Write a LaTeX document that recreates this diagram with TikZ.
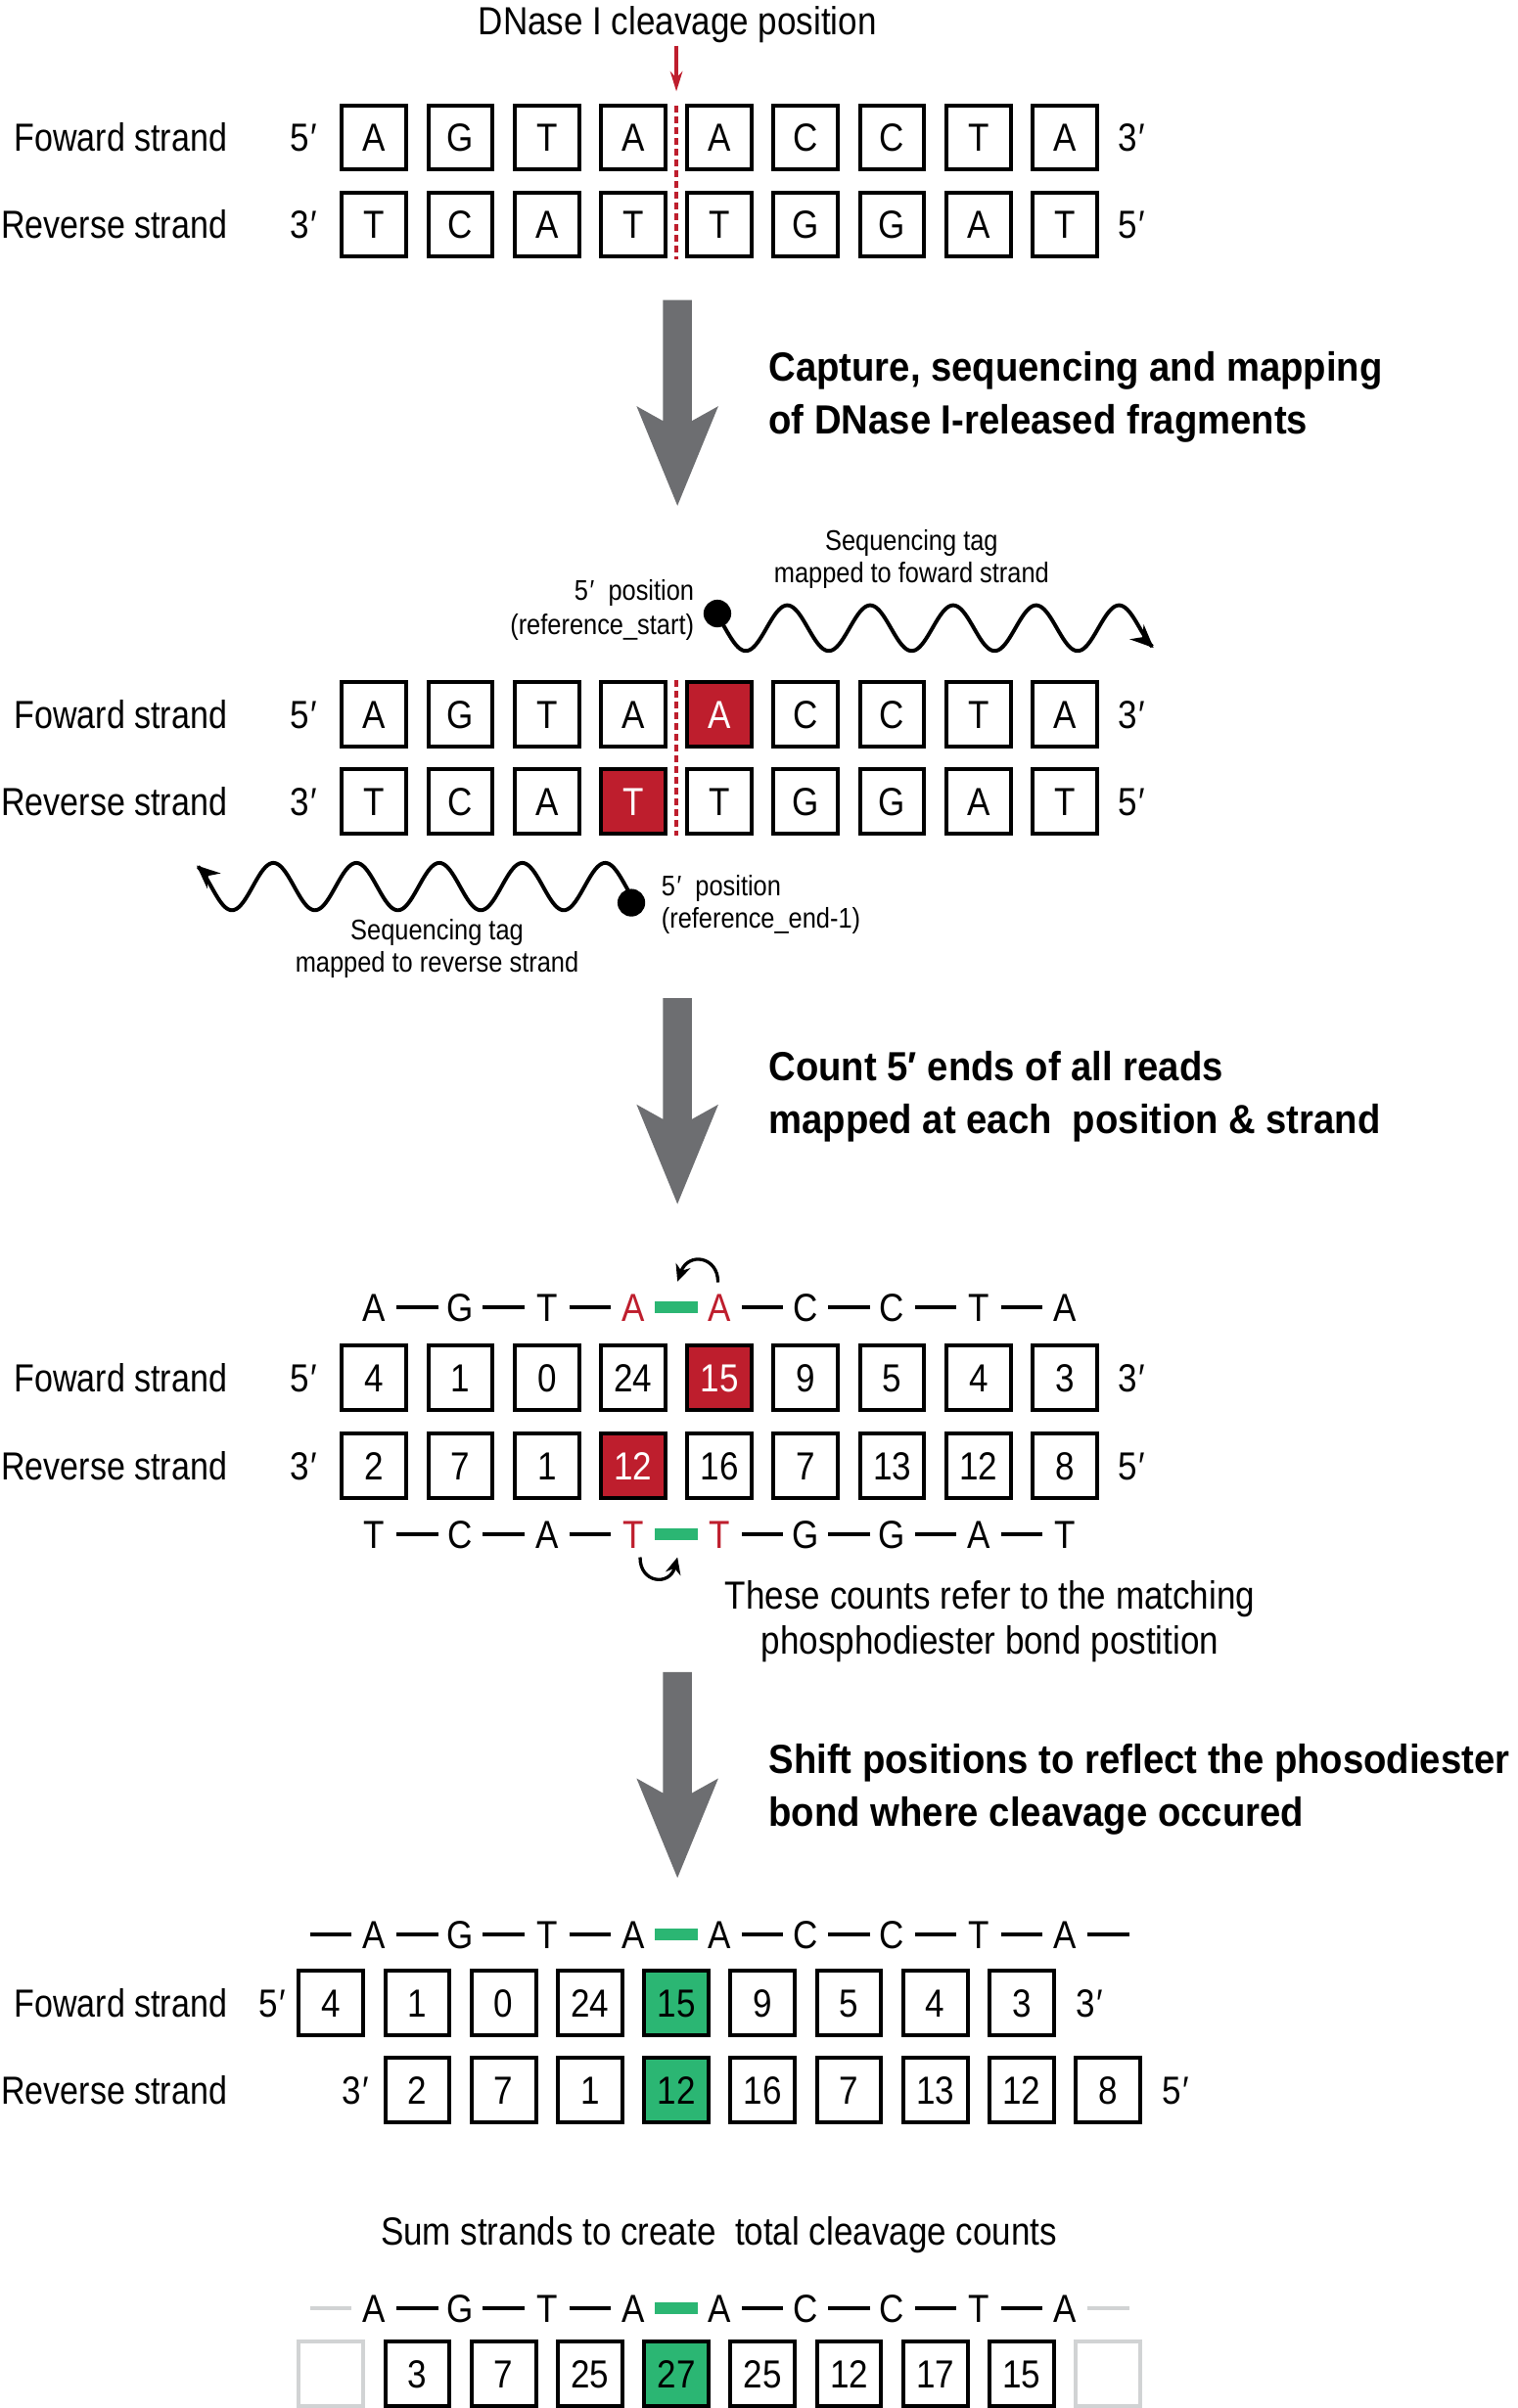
\documentclass[tikz,border=0pt]{standalone}
\usepackage{fontspec}
\setmainfont{Liberation Sans}[FakeStretch=0.875]
\newfontfamily\headfont{Liberation Sans}[FakeStretch=0.92]
\newfontfamily\lblfont{Liberation Sans}[FakeStretch=0.85]
\usetikzlibrary{arrows.meta}
\definecolor{dred}{HTML}{BE1E2D}
\definecolor{dgreen}{HTML}{2BB673}
\definecolor{dgrey}{HTML}{6D6E71}
\definecolor{lgrey}{HTML}{D1D3D4}
\newcommand{\fmain}{\fontsize{25.5}{30}\selectfont}
\newcommand{\flbl}{\lblfont\fontsize{25.5}{30}\selectfont}
\newcommand{\fsmall}{\fontsize{18.5}{22}\selectfont}
\newcommand{\fhead}{\headfont\bfseries\fontsize{26.5}{31}\selectfont}
\begin{document}
\begin{tikzpicture}[x=1pt,y=-1pt,
  cell/.style={draw, line width=2.55pt, minimum width=41.9pt, minimum height=41.9pt, inner sep=0pt, font=\fmain, text height=18.3pt, text depth=0pt},
  txt/.style={font=\fmain, inner sep=0pt, text height=18.3pt, text depth=0pt},
  rowlbl/.style={font=\flbl, inner sep=0pt, text height=18.3pt, text depth=0pt, anchor=east},
  stxt/.style={font=\fsmall, inner sep=0pt, text height=13.2pt, text depth=0pt},
  heading/.style={font=\fhead, inner sep=0pt, text height=19pt, text depth=0pt, anchor=west},
  bondline/.style={line width=2.6pt, shorten <=14.6pt, shorten >=14.6pt},
  gbond/.style={dgreen, line width=7.8pt, shorten <=14.3pt, shorten >=14.3pt},
  cutline/.style={dred, line width=2.4pt, dash pattern=on 4.5pt off 2.5pt},
  waveline/.style={line width=2.5pt, -{Stealth[length=15pt,width=13pt]}},
  curlarrow/.style={line width=2.1pt, -{Stealth[length=11pt,width=10pt]}},
  seqdot/.style={circle, fill=black, minimum size=18pt, inner sep=0pt},
  downarrow/.pic={\fill[dgrey] (-9.4,0) -- (9.4,0) -- (9.4,78.8) -- (26.6,69.2) -- (0,134) -- (-26.6,69.2) -- (-9.4,78.8) -- cycle;}
]
\useasboundingbox (0,0) rectangle (988,1568);

% ---------------- Section 1 ----------------
\node[txt] (title) at (441,13.5) {DNase I cleavage position};
\coordinate (ra1) at (440.3,29.7);
\coordinate (ra2) at (440.3,59.5);
\draw[dred, line width=2pt, -{Stealth[length=13pt,width=8pt]}] (ra1) -- (ra2);

\node[rowlbl] (l1f) at (148,89.5) {Foward strand};
\node[rowlbl] (l1r) at (148,146.2) {Reverse strand};
\node[txt, anchor=east] (e1a) at (207,89.5) {5\kern1pt′};
\node[txt, anchor=east] (e1b) at (207,146.2) {3\kern1pt′};
\node[txt, anchor=west] (e1c) at (728,89.5) {3\kern1pt′};
\node[txt, anchor=west] (e1d) at (728,146.2) {5\kern1pt′};
\foreach \t [count=\i from 0] in {A,G,T,A,A,C,C,T,A}
  \node[cell] (p\i) at ({243.6+56.2*\i},89.5) {\t};
\foreach \t [count=\i from 0] in {T,C,A,T,T,G,G,A,T}
  \node[cell] (pr\i) at ({243.6+56.2*\i},146.2) {\t};
\coordinate (c1a) at (440.3,69);
\coordinate (c1b) at (440.3,169);
\draw[cutline] (c1a) -- (c1b);

\pic (arrowA) at (441,195.3) {downarrow};
\node[heading] (h1a) at (500.3,238.5) {Capture, sequencing and mapping};
\node[heading] (h1b) at (500.3,273) {of DNase I-released fragments};

% ---------------- Section 2 ----------------
\node[stxt] (sq1) at (593.4,351.6) {Sequencing tag};
\node[stxt] (sq2) at (593.4,372.8) {mapped to foward strand};
\node[stxt, anchor=east] (fp1) at (452,384.5) {5\kern1pt′\ \ position};
\node[stxt, anchor=east] (fp2) at (452,406.8) {(reference\_start)};
\node[seqdot] (d1) at (467,399.5) {};
\draw[waveline] plot[domain=467:751, samples=300] (\x, {409 + 14.85*cos((\x-485.5)*6.6667)});

\node[rowlbl] (l2f) at (148,465) {Foward strand};
\node[rowlbl] (l2r) at (148,521.6) {Reverse strand};
\node[txt, anchor=east] (e2a) at (207,465) {5\kern1pt′};
\node[txt, anchor=east] (e2b) at (207,521.6) {3\kern1pt′};
\node[txt, anchor=west] (e2c) at (728,465) {3\kern1pt′};
\node[txt, anchor=west] (e2d) at (728,521.6) {5\kern1pt′};
\foreach \t/\f/\c [count=\i from 0] in {A/white/black,G/white/black,T/white/black,A/white/black,A/dred/white,C/white/black,C/white/black,T/white/black,A/white/black}
  \node[cell, fill=\f, text=\c] (q\i) at ({243.6+56.2*\i},465) {\t};
\foreach \t/\f/\c [count=\i from 0] in {T/white/black,C/white/black,A/white/black,T/dred/white,T/white/black,G/white/black,G/white/black,A/white/black,T/white/black}
  \node[cell, fill=\f, text=\c] (qr\i) at ({243.6+56.2*\i},521.6) {\t};
\coordinate (c2a) at (440.3,443);
\coordinate (c2b) at (440.3,544);
\draw[cutline] (c2a) -- (c2b);

\node[seqdot] (d2) at (411,587.8) {};
\draw[waveline] plot[domain=413:128, samples=300] (\x, {577.3 - 15.4*cos((\x-394)*6.6667)});
\node[stxt, anchor=west] (rp1) at (430.4,576.8) {5\kern1pt′\ \ position};
\node[stxt, anchor=west] (rp2) at (430.4,598) {(reference\_end-1)};
\node[stxt] (sr1) at (284.5,605.4) {Sequencing tag};
\node[stxt] (sr2) at (284.5,626.7) {mapped to reverse strand};

\pic (arrowB) at (441,650) {downarrow};
\node[heading] (h2a) at (500.3,694) {Count 5′ ends of all reads};
\node[heading] (h2b) at (500.3,728.5) {mapped at each\ \ position \& strand};

% ---------------- Section 3 ----------------
\foreach \t/\c [count=\i from 0] in {A/black,G/black,T/black,A/dred,A/dred,C/black,C/black,T/black,A/black}
  \node[txt, text=\c] (t\i) at ({243.6+56.2*\i},851.2) {\t};
\foreach \i/\j in {0/1,1/2,2/3,4/5,5/6,6/7,7/8}
  \draw[bondline] (t\i.center) -- (t\j.center);
\draw[gbond] (t3.center) -- (t4.center);
\coordinate (ua1) at (467.4,835);
\coordinate (ua2) at (441,834.5);
\draw[curlarrow] (ua1) .. controls (467.5,818) and (448,815) .. (ua2);

\node[rowlbl] (l3f) at (148,897.2) {Foward strand};
\node[rowlbl] (l3r) at (148,954.4) {Reverse strand};
\node[txt, anchor=east] (e3a) at (207,897.2) {5\kern1pt′};
\node[txt, anchor=east] (e3b) at (207,954.4) {3\kern1pt′};
\node[txt, anchor=west] (e3c) at (728,897.2) {3\kern1pt′};
\node[txt, anchor=west] (e3d) at (728,954.4) {5\kern1pt′};
\foreach \t/\f/\c [count=\i from 0] in {4/white/black,1/white/black,0/white/black,24/white/black,15/dred/white,9/white/black,5/white/black,4/white/black,3/white/black}
  \node[cell, fill=\f, text=\c] (n\i) at ({243.6+56.2*\i},897.2) {\t};
\foreach \t/\f/\c [count=\i from 0] in {2/white/black,7/white/black,1/white/black,12/dred/white,16/white/black,7/white/black,13/white/black,12/white/black,8/white/black}
  \node[cell, fill=\f, text=\c] (nr\i) at ({243.6+56.2*\i},954.4) {\t};

\foreach \t/\c [count=\i from 0] in {T/black,C/black,A/black,T/dred,T/dred,G/black,G/black,A/black,T/black}
  \node[txt, text=\c] (b\i) at ({243.6+56.2*\i},999.2) {\t};
\foreach \i/\j in {0/1,1/2,2/3,4/5,5/6,6/7,7/8}
  \draw[bondline] (b\i.center) -- (b\j.center);
\draw[gbond] (b3.center) -- (b4.center);
\coordinate (la1) at (416.7,1014);
\coordinate (la2) at (441,1014);
\draw[curlarrow] (la1) .. controls (416.5,1031) and (436,1033) .. (la2);

\node[txt] (note1) at (644.5,1038.5) {These counts refer to the matching};
\node[txt] (note2) at (644.5,1068) {phosphodiester bond postition};

\pic (arrowC) at (441,1088.8) {downarrow};
\node[heading] (h3a) at (500.3,1145.5) {Shift positions to reflect the phosodiester};
\node[heading] (h3b) at (500.3,1180) {bond where cleavage occured};

% ---------------- Section 4 ----------------
\coordinate (u-l) at (187.4,1259.8);
\coordinate (u-r) at (749.8,1259.8);
\foreach \t [count=\i from 0] in {A,G,T,A,A,C,C,T,A}
  \node[txt] (u\i) at ({243.6+56.2*\i},1259.8) {\t};
\draw[bondline] (u-l) -- (u0.center);
\draw[bondline] (u8.center) -- (u-r);
\foreach \i/\j in {0/1,1/2,2/3,4/5,5/6,6/7,7/8}
  \draw[bondline] (u\i.center) -- (u\j.center);
\draw[gbond] (u3.center) -- (u4.center);

\node[rowlbl] (l4f) at (148,1304) {Foward strand};
\node[rowlbl] (l4r) at (148,1360.8) {Reverse strand};
\node[txt, anchor=east] (e4a) at (186,1304) {5\kern1pt′};
\node[txt, anchor=west] (e4c) at (700.5,1304) {3\kern1pt′};
\node[txt, anchor=east] (e4b) at (240.5,1360.8) {3\kern1pt′};
\node[txt, anchor=west] (e4d) at (756.5,1360.8) {5\kern1pt′};
\foreach \t/\f [count=\i from 0] in {4/white,1/white,0/white,24/white,15/dgreen,9/white,5/white,4/white,3/white}
  \node[cell, fill=\f] (m\i) at ({215.5+56.2*\i},1304) {\t};
\foreach \t/\f [count=\i from 0] in {2/white,7/white,1/white,12/dgreen,16/white,7/white,13/white,12/white,8/white}
  \node[cell, fill=\f] (mr\i) at ({271.7+56.2*\i},1360.8) {\t};

\node[txt] (sumt) at (468,1453) {Sum strands to create\ \ total cleavage counts};

\coordinate (v-l) at (187.4,1503.2);
\coordinate (v-r) at (749.8,1503.2);
\foreach \t [count=\i from 0] in {A,G,T,A,A,C,C,T,A}
  \node[txt] (v\i) at ({243.6+56.2*\i},1503.2) {\t};
\draw[bondline, lgrey] (v-l) -- (v0.center);
\draw[bondline, lgrey] (v8.center) -- (v-r);
\foreach \i/\j in {0/1,1/2,2/3,4/5,5/6,6/7,7/8}
  \draw[bondline] (v\i.center) -- (v\j.center);
\draw[gbond] (v3.center) -- (v4.center);

\node[cell, draw=lgrey] (s0) at (215.5,1545.6) {};
\foreach \t/\f [count=\i from 1] in {3/white,7/white,25/white,27/dgreen,25/white,12/white,17/white,15/white}
  \node[cell, fill=\f] (s\i) at ({215.5+56.2*\i},1545.6) {\t};
\node[cell, draw=lgrey] (s9) at ({215.5+56.2*9},1545.6) {};
\end{tikzpicture}
\end{document}
